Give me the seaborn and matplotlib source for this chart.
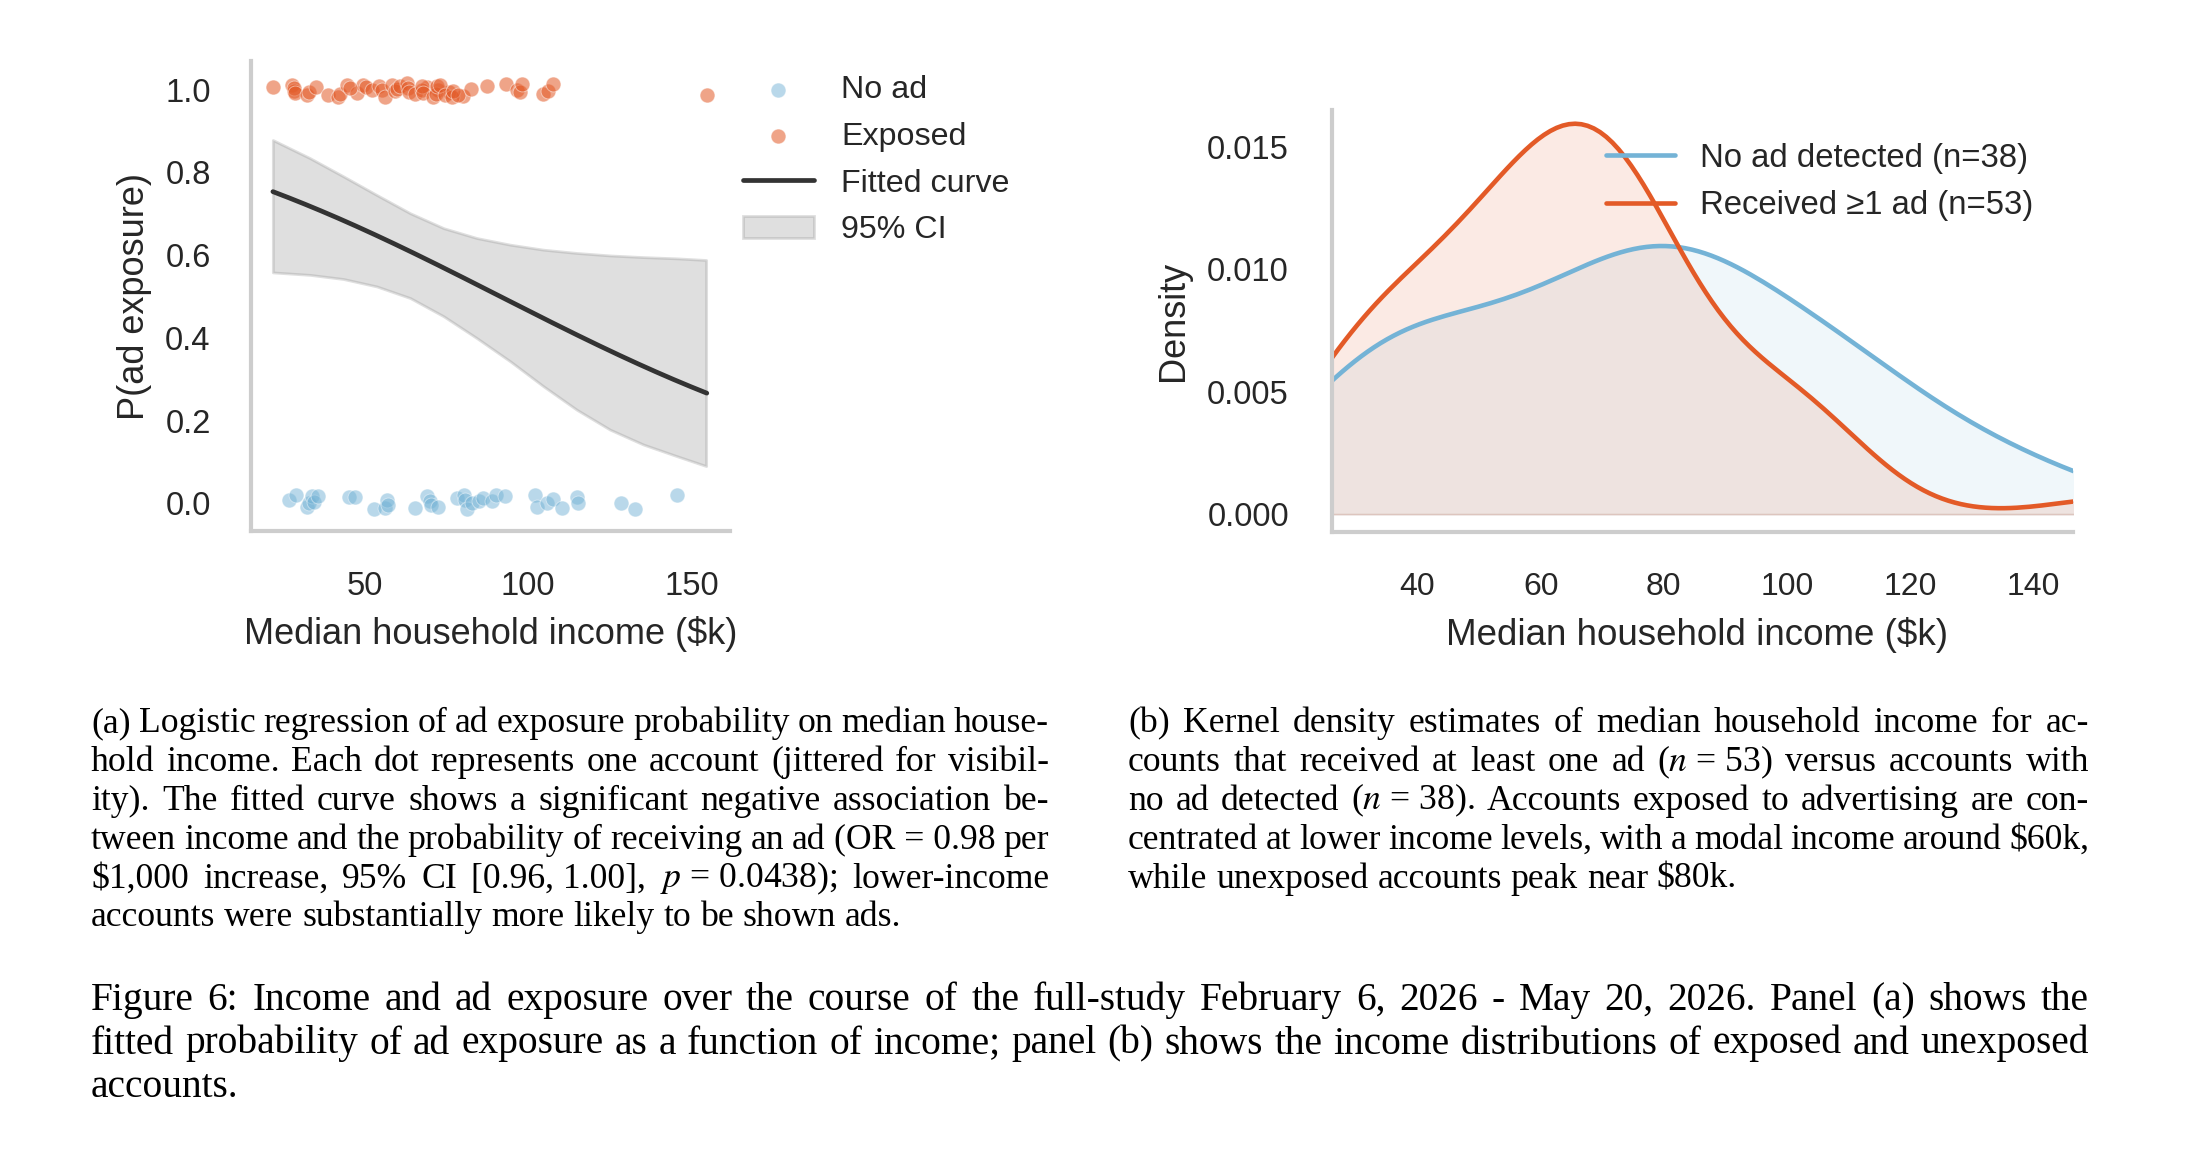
import numpy as np
import matplotlib
matplotlib.use("Agg")
import matplotlib.pyplot as plt
import seaborn as sns
from matplotlib.colors import to_rgba

# ------------------------------------------------------------------ data
# Panel (a): one dot per account (income in $k, vertically jittered position)
no_ad_income = [26.8, 29.1, 32.4, 32.9, 33.9, 34.5, 35.9, 45.4, 47.2, 52.8,
                56.3, 57.0, 57.3, 65.5, 69.1, 69.9, 70.5, 72.6, 78.3, 80.3,
                80.8, 81.3, 82.8, 84.9, 86.4, 89.0, 90.3, 93.0, 102.2, 102.7,
                105.8, 107.8, 110.4, 115.0, 115.3, 128.4, 132.8, 145.5]
no_ad_jitter = [0.009, 0.021, -0.008, 0.001, 0.017, 0.004, 0.017, 0.016, 0.016, -0.013,
                -0.011, 0.008, -0.003, -0.011, 0.017, 0.005, -0.005, -0.008, 0.013, 0.021,
                0.008, -0.014, 0.001, 0.005, 0.013, 0.005, 0.021, 0.017, 0.021, -0.008,
                0.000, 0.011, -0.011, 0.016, 0.001, 0.000, -0.013, 0.019]

exposed_income = [22.0, 27.8, 28.3, 28.5, 28.8, 32.4, 33.0, 35.2, 39.0, 42.0,
                  42.6, 44.8, 72.5, 47.7, 49.7, 76.0, 50.5, 52.3, 69.0, 54.3,
                  55.5, 56.3, 58.4, 80.0, 59.4, 59.9, 61.0, 63.0, 63.4, 63.5,
                  65.5, 67.5, 67.5, 68.0, 71.1, 71.9, 72.1, 73.1, 74.7, 76.7,
                  77.2, 78.7, 82.5, 87.4, 93.2, 96.8, 97.6, 98.1, 45.5, 104.5,
                  106.0, 107.8, 154.7]
exposed_jitter = [1.006, 1.012, 0.997, 1.003, 0.992, 0.988, 0.995, 1.006, 0.986, 0.981,
                  0.989, 1.012, 0.998, 0.992, 1.010, 0.994, 1.005, 1.000, 1.006, 1.008,
                  1.000, 0.983, 1.012, 0.985, 0.997, 1.002, 1.008, 1.016, 1.004, 0.994,
                  0.990, 1.000, 1.009, 0.992, 0.983, 0.990, 1.008, 1.012, 0.986, 0.981,
                  0.996, 0.988, 1.002, 1.008, 1.013, 1.000, 0.995, 1.013, 1.004, 0.990,
                  0.997, 1.013, 0.986]

# fitted logistic model (logit p = intercept + slope * income)
logit_intercept = 1.469
logit_slope = -0.01605

# 95% CI band of the fitted curve
ci_x = [21.98, 33.4, 43.6, 53.8, 64.0, 74.2, 84.4, 94.6, 104.7, 114.95, 125.1, 135.3, 145.5, 154.5]
ci_upper = [0.878, 0.834, 0.790, 0.745, 0.701, 0.665, 0.641, 0.625, 0.613, 0.605, 0.599, 0.595, 0.592, 0.588]
ci_lower = [0.558, 0.552, 0.542, 0.524, 0.496, 0.452, 0.399, 0.343, 0.283, 0.226, 0.178, 0.142, 0.114, 0.090]

legend_a = ["No ad", "Exposed", "Fitted curve", "95% CI"]
legend_b = ["No ad detected (n=38)", "Received \u22651 ad (n=53)"]
xticks_a = [50, 100, 150]
yticks_a = [0.0, 0.2, 0.4, 0.6, 0.8, 1.0]
xticks_b = [40, 60, 80, 100, 120, 140]
yticks_b = [0.000, 0.005, 0.010, 0.015]
xlabel = "Median household income ($k)"
ylabel_a = "P(ad exposure)"
ylabel_b = "Density"

caption_a = [
    "(a) Logistic regression of ad exposure probability on median house-",
    "hold income. Each dot represents one account (jittered for visibil-",
    "ity). The fitted curve shows a significant negative association be-",
    "tween income and the probability of receiving an ad (OR\u00a0=\u00a00.98 per",
    "$1,000 increase, 95% CI [0.96,\u00a01.00], $p$\u00a0=\u00a00.0438); lower-income",
    "accounts were substantially more likely to be shown ads.",
]
caption_b = [
    "(b) Kernel density estimates of median household income for ac-",
    "counts that received at least one ad ($n$\u00a0=\u00a053) versus accounts with",
    "no ad detected ($n$\u00a0=\u00a038). Accounts exposed to advertising are con-",
    "centrated at lower income levels, with a modal income around $60k,",
    "while unexposed accounts peak near $80k.",
]
caption_fig = [
    "Figure 6: Income and ad exposure over the course of the full-study February 6, 2026 - May 20, 2026. Panel (a) shows the",
    "fitted probability of ad exposure as a function of income; panel (b) shows the income distributions of exposed and unexposed",
    "accounts.",
]

# ------------------------------------------------------------------ style
BLUE = "#74B3D6"
ORANGE = "#E35A27"
DARK = "#333333"
SPINE = "#cdcdcd"
TEXT = "#262626"

sns.set_theme(style="white")
plt.rcParams["font.family"] = ["Liberation Sans", "DejaVu Sans"]
plt.rcParams["mathtext.fontset"] = "stix"
SERIF = ["Liberation Serif", "DejaVu Serif"]

W, H = 2186, 1164
fig = plt.figure(figsize=(W / 100, H / 100), dpi=100)
ax1 = fig.add_axes([251 / W, 1 - 531 / H, (730 - 251) / W, (531 - 61) / H])
ax2 = fig.add_axes([1332 / W, 1 - 532 / H, (2073 - 1332) / W, (532 - 110) / H])

# ------------------------------------------------------------------ panel (a)
sns.scatterplot(x=no_ad_income, y=no_ad_jitter, color=BLUE, alpha=0.5, s=115,
                edgecolor="white", linewidth=0.6, ax=ax1, zorder=4)
sns.scatterplot(x=exposed_income, y=exposed_jitter, color=ORANGE, alpha=0.55, s=115,
                edgecolor="white", linewidth=0.6, ax=ax1, zorder=4)
all_income = np.array(no_ad_income + exposed_income)
grid = np.linspace(all_income.min(), all_income.max(), 300)
p_fit = 1.0 / (1.0 + np.exp(-(logit_intercept + logit_slope * grid)))
sns.lineplot(x=grid, y=p_fit, color=DARK, linewidth=3.4, ax=ax1, zorder=3)
band = ax1.fill_between(ci_x, ci_lower, ci_upper, color="gray", alpha=0.25,
                        linewidth=2.0, zorder=2)

ax1.set_xlim(15.3, 161.8)
ax1.set_ylim(-0.067, 1.069)
ax1.set_xticks(xticks_a)
ax1.set_yticks(yticks_a)
ax1.set_yticklabels([f"{v:.1f}" for v in yticks_a])
ax1.tick_params(axis="both", length=0, pad=29, labelsize=23.5, labelcolor=TEXT)
ax1.set_xlabel(xlabel, fontsize=26, color=TEXT, va="center")
ax1.set_ylabel(ylabel_a, fontsize=26, color=TEXT, va="center")
ax1.xaxis.set_label_coords(0.5, -0.2187)
ax1.yaxis.set_label_coords(-0.243, 0.5)

handles_a = [ax1.collections[0], ax1.collections[1], ax1.lines[0], band]
ax1.legend(handles_a, legend_a, loc="upper left",
           bbox_to_anchor=(743 / W, 1 - 75 / H), bbox_transform=fig.transFigure,
           frameon=False, fontsize=23.2, handlelength=2.2, handletextpad=0.85,
           labelspacing=0.52, borderpad=0, borderaxespad=0, labelcolor=TEXT)

# ------------------------------------------------------------------ panel (b)
groups = [(no_ad_income, BLUE, 0.10), (exposed_income, ORANGE, 0.12)]
for vals, col, a in groups:
    sns.kdeplot(x=vals, fill=True, color=col, alpha=a, linewidth=1.2,
                edgecolor=to_rgba(col, 0.2), ax=ax2)
for (vals, col, a), lab in zip(groups, legend_b):
    sns.kdeplot(x=vals, color=col, linewidth=3.3, ax=ax2, label=lab)

ax2.set_xlim(26.1, 146.5)
ax2.set_ylim(-0.00073, 0.0165)
ax2.set_xticks(xticks_b)
ax2.set_yticks(yticks_b)
ax2.set_yticklabels([f"{v:.3f}" for v in yticks_b])
ax2.tick_params(axis="x", length=0, pad=29, labelsize=23, labelcolor=TEXT)
ax2.tick_params(axis="y", length=0, pad=31, labelsize=23.5, labelcolor=TEXT)
ax2.set_xlabel(xlabel, fontsize=26.5, color=TEXT, va="center")
ax2.set_ylabel(ylabel_b, fontsize=26, color=TEXT, va="center")
ax2.xaxis.set_label_coords(0.493, -0.2431)
ax2.yaxis.set_label_coords(-0.2139, 0.5)
ax2.legend(ax2.lines[:2], legend_b, loc="upper left",
           bbox_to_anchor=(1606 / W, 1 - 143 / H), bbox_transform=fig.transFigure,
           frameon=False, fontsize=23.7, handlelength=2.1, handletextpad=0.75,
           labelspacing=0.5, borderpad=0, borderaxespad=0, labelcolor=TEXT)

for ax in (ax1, ax2):
    sns.despine(ax=ax)
    for s in ("left", "bottom"):
        ax.spines[s].set_color(SPINE)
        ax.spines[s].set_linewidth(3.0)
    ax.grid(False)

# ------------------------------------------------------------------ captions
renderer = fig.canvas.get_renderer()


def justified(lines, x0, x1, base0, dy, size):
    for i, line in enumerate(lines):
        toks = [t.replace("\u00a0", " ") for t in line.split(" ")]
        y = 1 - (base0 + i * dy) / H
        arts = [fig.text(0, y, t, fontsize=size, family=SERIF, color="black",
                         ha="left", va="baseline") for t in toks]
        widths = [a.get_window_extent(renderer).width for a in arts]
        normal = size * 0.25 * 100 / 72
        if i == len(lines) - 1 or len(toks) == 1:
            gap = normal
        else:
            gap = (x1 - x0 - sum(widths)) / (len(toks) - 1)
        x = x0
        for a, w in zip(arts, widths):
            a.set_x(x / W)
            x += w + gap


justified(caption_a, 91, 1049, 732, 38.9, 25.7)
justified(caption_b, 1128, 2089, 732, 38.9, 25.7)
justified(caption_fig, 91, 2089, 1010, 43.5, 28.4)

fig.savefig("out.png", dpi=100)
